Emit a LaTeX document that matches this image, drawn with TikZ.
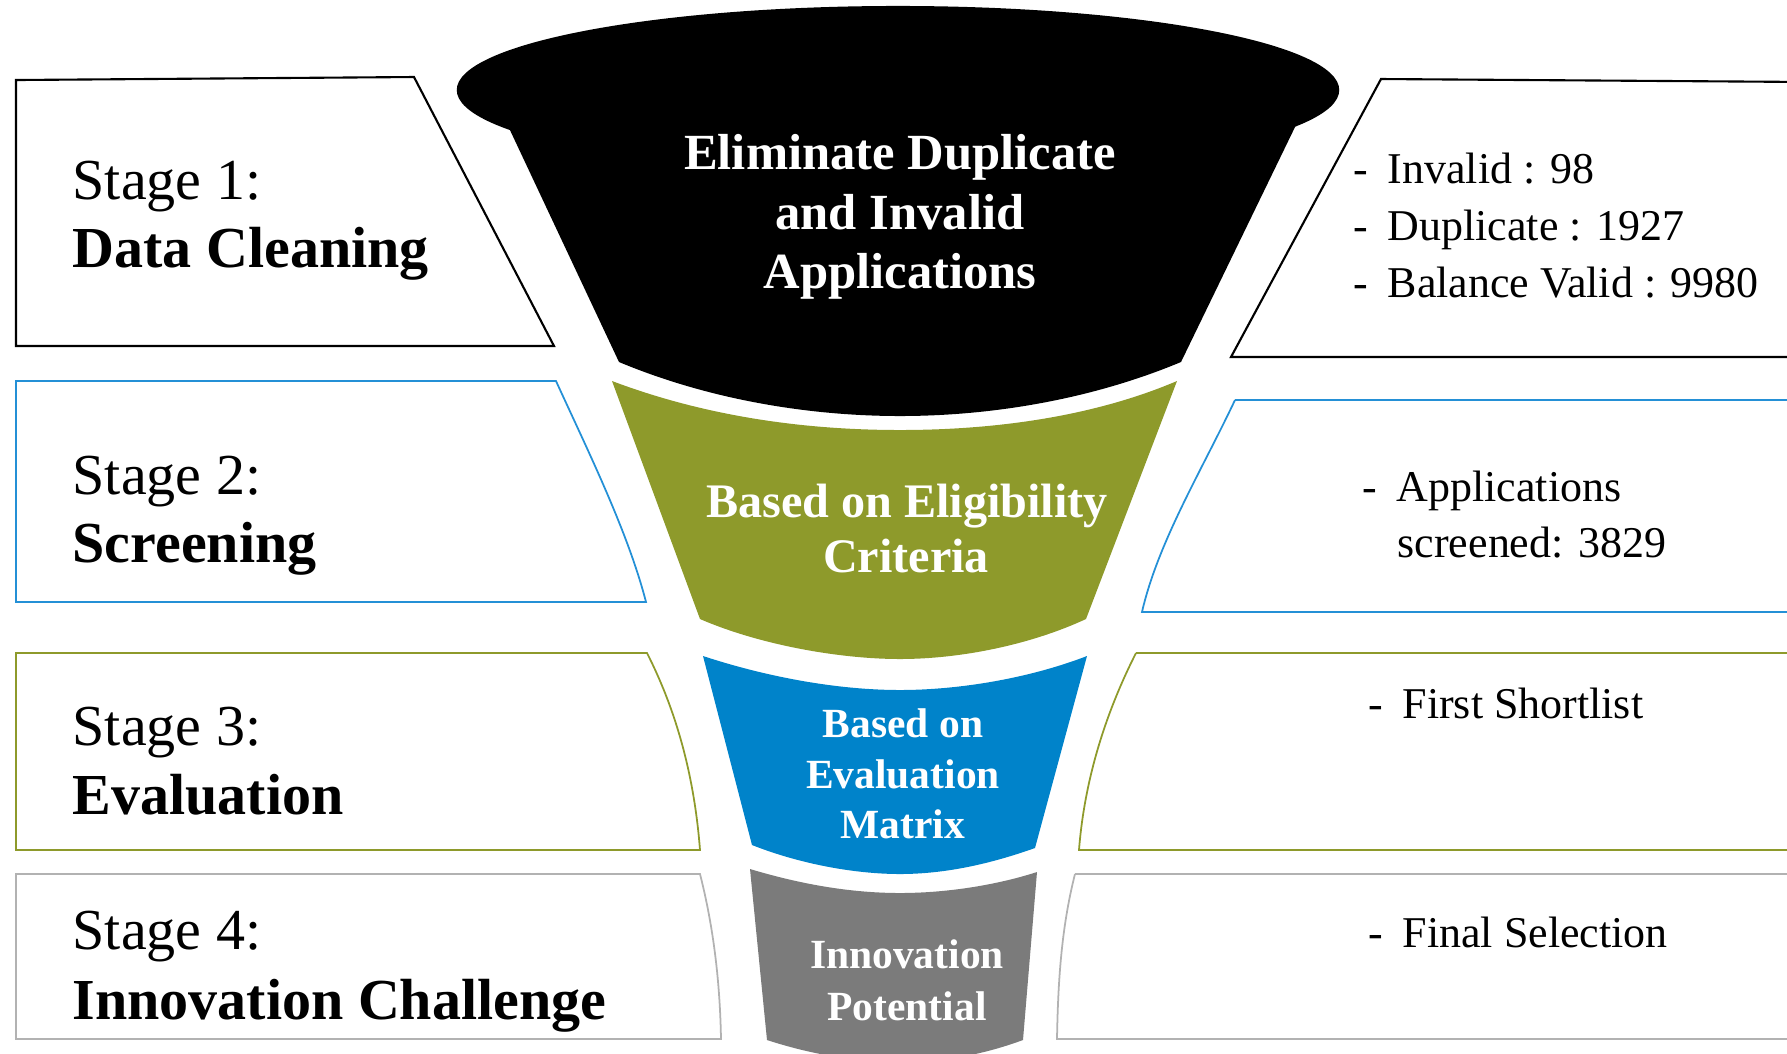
\documentclass[tikz,border=0pt]{standalone}
\usepackage{fontspec}
\setmainfont{Liberation Serif}
\definecolor{funnelolive}{HTML}{8E9A2B}
\definecolor{funnelblue}{HTML}{0083CA}
\definecolor{funnelgray}{HTML}{7B7B7B}
\definecolor{boxblue}{HTML}{2490D6}
\definecolor{boxgray}{HTML}{B2B2B2}
\begin{document}
\begin{tikzpicture}[x=0.01cm,y=-0.01cm,
    stagetext/.style={anchor=base west,inner sep=0pt,font=\fontsize{16.5}{20}\selectfont},
    stagename/.style={stagetext,font=\fontsize{16.5}{20}\selectfont\bfseries},
    infotext/.style={anchor=base west,inner sep=0pt,font=\fontsize{12.5}{15}\selectfont},
    funneltext/.style={anchor=base,inner sep=0pt,text=white,font=\bfseries}]
  \useasboundingbox (0,0) rectangle (1787,1053);

  % left boxes
  \draw[line width=0.6pt] (16,80) -- (414,77) -- (554,346) -- (16,346) -- cycle;
  \draw[boxblue,line width=0.5pt] (16,381) -- (556,381) .. controls (588,451) and (628,532) .. (646,602) -- (16,602) -- cycle;
  \draw[funnelolive,line width=0.5pt] (16,653) -- (647,653) .. controls (680,718) and (695,785) .. (700,850) -- (16,850) -- cycle;
  \draw[boxgray,line width=0.5pt] (16,874) -- (700,874) .. controls (714,929) and (720,984) .. (721,1039) -- (16,1039) -- cycle;

  % right boxes
  \draw[line width=0.6pt] (1381,79) -- (1810,82) -- (1810,357) -- (1231,357) -- cycle;
  \draw[boxblue,line width=0.5pt] (1235,400) -- (1810,400) -- (1810,612) -- (1142,612) .. controls (1158,542) and (1202,470) .. (1235,400);
  \draw[funnelolive,line width=0.5pt] (1136,653) -- (1810,653) -- (1810,850) -- (1079,850) .. controls (1084,785) and (1103,718) .. (1136,653);
  \draw[boxgray,line width=0.5pt] (1075,874) -- (1810,874) -- (1810,1039) -- (1057,1039) .. controls (1058,984) and (1061,929) .. (1075,874);

  % funnel
  \fill (898,90) ellipse [x radius=4.41cm, y radius=0.84cm];
  \fill (509,128) -- (1296,125) -- (1181,362) .. controls (1090,400) and (990,416) .. (900,416) .. controls (810,416) and (710,400) .. (619,362) -- cycle;
  \fill[funnelolive] (612,381) .. controls (710,418) and (810,430) .. (900,430) .. controls (990,430) and (1090,418) .. (1177,381) -- (1086,619) .. controls (1030,645) and (960,659) .. (900,659) .. controls (840,659) and (760,645) .. (700,619) -- cycle;
  \fill[funnelblue] (703,656) .. controls (770,678) and (840,690) .. (900,690) .. controls (960,690) and (1030,678) .. (1087,656) -- (1035,848) .. controls (990,864) and (945,874) .. (900,874) .. controls (855,874) and (800,864) .. (752,845) -- cycle;
  \fill[funnelgray] (750,869) .. controls (800,884) and (850,893) .. (900,893) .. controls (950,893) and (1000,884) .. (1037,872) -- (1023,1040) .. controls (985,1054) and (945,1062) .. (900,1062) .. controls (855,1062) and (810,1054) .. (767,1040) -- cycle;

  \node[funneltext,font=\fontsize{14.4}{17}\selectfont\bfseries] (elim) at (900,169) {Eliminate Duplicate};
  \node[funneltext,font=\fontsize{14.4}{17}\selectfont\bfseries] (inval) at (900,229) {and Invalid};
  \node[funneltext,font=\fontsize{14.4}{17}\selectfont\bfseries] (appl) at (900,288) {Applications};
  \node[funneltext,font=\fontsize{13.7}{16}\selectfont\bfseries] (elig) at (907,517) {Based on Eligibility};
  \node[funneltext,font=\fontsize{13.7}{16}\selectfont\bfseries] (crit) at (906,572) {Criteria};
  \node[funneltext,font=\fontsize{11.8}{14}\selectfont\bfseries] (based) at (903,737) {Based on};
  \node[funneltext,font=\fontsize{11.8}{14}\selectfont\bfseries] (evalm) at (903,788) {Evaluation};
  \node[funneltext,font=\fontsize{11.8}{14}\selectfont\bfseries] (matrix) at (903,838) {Matrix};
  \node[funneltext,font=\fontsize{11.8}{14}\selectfont\bfseries] (innov) at (907,968) {Innovation};
  \node[funneltext,font=\fontsize{11.8}{14}\selectfont\bfseries] (pot) at (907,1020) {Potential};

  % stage labels
  \node[stagetext] (st1) at (72,199) {Stage 1:};
  \node[stagename] (nm1) at (72,267) {Data Cleaning};
  \node[stagetext] (st2) at (72,494) {Stage 2:};
  \node[stagename] (nm2) at (72,562) {Screening};
  \node[stagetext] (st3) at (72,745) {Stage 3:};
  \node[stagename] (nm3) at (72,814) {Evaluation};
  \node[stagetext] (st4) at (72,949) {Stage 4:};
  \node[stagename] (nm4) at (72,1019) {Innovation Challenge};

  % numbers
  \node[infotext] (invalid) at (1353,183) {-\hspace{5.5pt}Invalid : 98};
  \node[infotext] (dupl) at (1353,240) {-\hspace{5.5pt}Duplicate : 1927};
  \node[infotext] (valid) at (1353,297) {-\hspace{5.5pt}Balance Valid : 9980};
  \node[infotext] (scr1) at (1362,501) {-\hspace{5.5pt}Applications};
  \node[infotext] (scr2) at (1397,557) {screened: 3829};
  \node[infotext] (short) at (1368,718) {-\hspace{5.5pt}First Shortlist};
  \node[infotext] (final) at (1368,947) {-\hspace{5.5pt}Final Selection};
\end{tikzpicture}
\end{document}
